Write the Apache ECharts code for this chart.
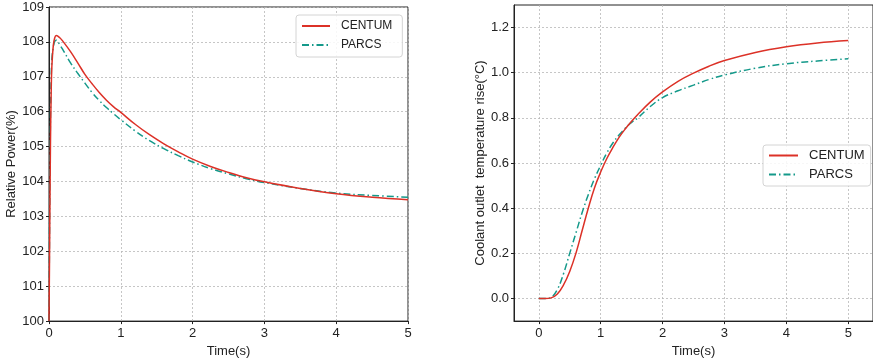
<!DOCTYPE html>
<html>
<head>
<meta charset="utf-8">
<script src="https://cdn.jsdelivr.net/npm/echarts@6/dist/echarts.min.js"></script>
<style>html,body{margin:0;padding:0;background:#fff}#c{width:873px;height:363px}</style>
</head>
<body>
<div id="c"></div>
<script>
// ---- Left chart: relative power ----
const timeP = [0, 0.01, 0.02, 0.03, 0.04, 0.06, 0.08, 0.1, 0.15, 0.2, 0.3, 0.4, 0.5, 0.6, 0.7, 0.8, 0.9, 1.0, 1.2, 1.4, 1.6, 1.8, 2.0, 2.25, 2.5, 2.75, 3.0, 3.5, 4.0, 4.5, 5.0];
const centumPower = [100, 102.5, 105, 106.5, 107.3, 107.9, 108.12, 108.18, 108.12, 108.0, 107.72, 107.4, 107.07, 106.8, 106.55, 106.33, 106.14, 105.98, 105.64, 105.34, 105.08, 104.85, 104.64, 104.43, 104.26, 104.11, 103.99, 103.8, 103.65, 103.55, 103.48];
const parcsPower = [100, 103.5, 105.8, 106.9, 107.5, 107.85, 108.02, 108.05, 107.92, 107.75, 107.4, 107.1, 106.82, 106.55, 106.32, 106.12, 105.94, 105.77, 105.45, 105.17, 104.94, 104.74, 104.56, 104.37, 104.22, 104.08, 103.97, 103.8, 103.67, 103.6, 103.55];
// ---- Right chart: coolant outlet temperature rise ----
const timeT = [0, 0.1, 0.2, 0.3, 0.4, 0.5, 0.6, 0.7, 0.8, 0.9, 1.0, 1.1, 1.2, 1.3, 1.4, 1.5, 1.6, 1.8, 2.0, 2.25, 2.5, 2.75, 3.0, 3.5, 4.0, 4.5, 5.0];
const centumTemp = [0, 0, 0.003, 0.02, 0.06, 0.12, 0.2, 0.3, 0.4, 0.49, 0.56, 0.62, 0.67, 0.715, 0.752, 0.785, 0.815, 0.87, 0.915, 0.962, 0.998, 1.029, 1.054, 1.09, 1.115, 1.132, 1.143];
const parcsTemp = [0, 0, 0.005, 0.04, 0.11, 0.2, 0.29, 0.38, 0.46, 0.53, 0.59, 0.645, 0.69, 0.725, 0.755, 0.78, 0.80, 0.85, 0.89, 0.92, 0.945, 0.97, 0.99, 1.02, 1.04, 1.052, 1.062];
// tick labels
const timeTicks = [0, 1, 2, 3, 4, 5];
const tempTicks = [0, 0.2, 0.4, 0.6, 0.8, 1.0, 1.2];
const seriesNames = ['CENTUM', 'PARCS'];

const RED = '#dc3127', TEAL = '#14998a';
const FONT = 'Liberation Sans';
const txt = '#222';
const pair = (xs, ys) => xs.map((x, i) => [x, ys[i]]);

const split = {show: true, lineStyle: {color: '#b8b8b8', type: [2, 2], width: 0.8}};
const axLine = {show: true, onZero: false, lineStyle: {color: '#222', width: 1}};
const tick = {show: true, inside: false, length: 3, lineStyle: {color: '#222'}};
const lab = {color: txt, fontSize: 13, fontFamily: FONT};
const nameStyle = {color: txt, fontSize: 13, fontFamily: FONT};
const legendCommon = {
  orient: 'vertical', data: seriesNames,
  itemHeight: 10,
  borderColor: '#d4d4d4', borderWidth: 1, borderRadius: 3, backgroundColor: 'rgba(255,255,255,0.85)',
  itemStyle: {color: 'rgba(0,0,0,0)', borderWidth: 0, opacity: 0}
};

const chart = echarts.init(document.getElementById('c'), null, {renderer: 'canvas'});
chart.setOption({
  animation: false,
  backgroundColor: '#fff',
  grid: [
    {left: 49, top: 7, width: 359, height: 319, show: true, borderColor: '#222', borderWidth: 1, containLabel: false},
    {left: 514, top: 5, width: 362.5, height: 321, show: true, borderColor: '#222', borderWidth: 1, containLabel: false}
  ],
  xAxis: [
    {gridIndex: 0, type: 'value', min: 0, max: 5, interval: 1,
     axisLine: axLine, axisTick: tick, splitLine: split,
     axisLabel: Object.assign({margin: 6}, lab),
     name: 'Time(s)', nameLocation: 'middle', nameGap: 19, nameTextStyle: nameStyle},
    {gridIndex: 1, type: 'value', min: -0.4, max: 5.4,
     axisLine: axLine, axisTick: Object.assign({customValues: timeTicks}, tick), splitLine: split,
     axisLabel: Object.assign({margin: 6, customValues: timeTicks}, lab),
     name: 'Time(s)', nameLocation: 'middle', nameGap: 19, nameTextStyle: nameStyle}
  ],
  yAxis: [
    {gridIndex: 0, type: 'value', min: 100, max: 109, interval: 1,
     axisLine: axLine, axisTick: tick, splitLine: split,
     axisLabel: Object.assign({margin: 5}, lab),
     name: 'Relative Power(%)', nameLocation: 'middle', nameGap: 24, nameRotate: 90, nameTextStyle: nameStyle},
    {gridIndex: 1, type: 'value', min: -0.1, max: 1.3,
     axisLine: axLine, axisTick: Object.assign({customValues: tempTicks}, tick), splitLine: split,
     axisLabel: Object.assign({margin: 5, customValues: tempTicks, formatter: v => v.toFixed(1)}, lab),
     name: 'Coolant outlet  temperature rise(°C)', nameLocation: 'middle', nameGap: 23, nameRotate: 90, nameTextStyle: nameStyle}
  ],
  legend: [
    Object.assign({left: 296, top: 15, itemWidth: 28, itemGap: 7, padding: [5, 10, 6, 5],
     textStyle: {color: txt, fontSize: 12, fontFamily: FONT, padding: [0, 0, 0, 6]}}, legendCommon),
    Object.assign({left: 763, top: 145, itemWidth: 29, itemGap: 6, padding: [4, 6, 5, 5],
     textStyle: {color: txt, fontSize: 13, fontFamily: FONT, padding: [0, 0, 0, 6]}}, legendCommon)
  ],
  series: [
    {name: seriesNames[0], type: 'line', xAxisIndex: 0, yAxisIndex: 0, data: pair(timeP, centumPower),
     symbol: 'none', smooth: 0.4, lineStyle: {color: RED, width: 1.5}, itemStyle: {color: RED}, z: 3},
    {name: seriesNames[1], type: 'line', xAxisIndex: 0, yAxisIndex: 0, data: pair(timeP, parcsPower),
     symbol: 'none', smooth: 0.4, lineStyle: {color: TEAL, width: 1.5, type: [7, 3, 1.5, 3]}, itemStyle: {color: TEAL}, z: 2},
    {name: seriesNames[0], type: 'line', xAxisIndex: 1, yAxisIndex: 1, data: pair(timeT, centumTemp),
     symbol: 'none', smooth: 0.4, lineStyle: {color: RED, width: 1.5}, itemStyle: {color: RED}, z: 3},
    {name: seriesNames[1], type: 'line', xAxisIndex: 1, yAxisIndex: 1, data: pair(timeT, parcsTemp),
     symbol: 'none', smooth: 0.4, lineStyle: {color: TEAL, width: 1.5, type: [7, 3, 1.5, 3]}, itemStyle: {color: TEAL}, z: 2}
  ]
});
</script>
</body>
</html>
